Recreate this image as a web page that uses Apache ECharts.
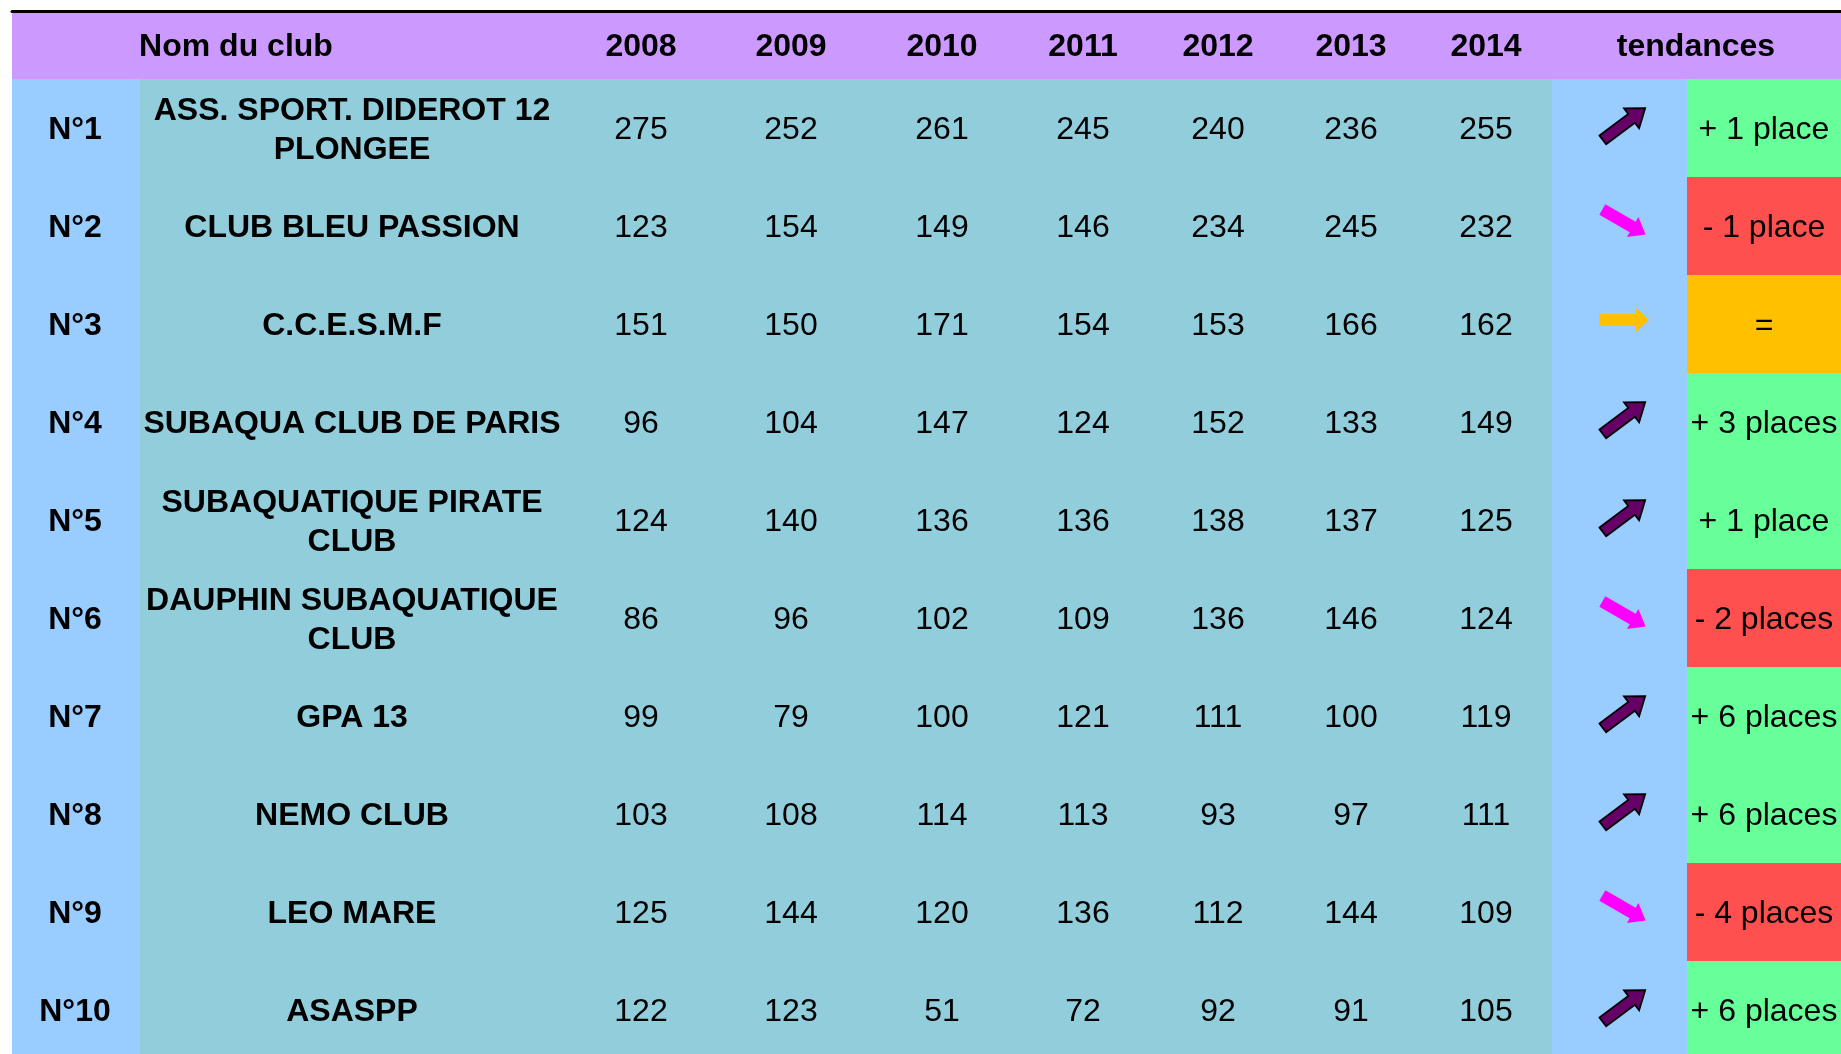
<!DOCTYPE html>
<html>
<head>
<meta charset="utf-8">
<title>Classement des clubs</title>
<script src="https://cdn.jsdelivr.net/npm/echarts@6/dist/echarts.min.js"></script>
<style>
  html, body { margin: 0; padding: 0; background: #ffffff; }
  #chart { width: 1841px; height: 1054px; }
</style>
</head>
<body>
<div id="chart"></div>
<script>
// données du tableau
const ranks = ['N°1', 'N°2', 'N°3', 'N°4', 'N°5', 'N°6', 'N°7', 'N°8', 'N°9', 'N°10']
const clubs = [
  'ASS. SPORT. DIDEROT 12\nPLONGEE',
  'CLUB BLEU PASSION',
  'C.C.E.S.M.F',
  'SUBAQUA CLUB DE PARIS',
  'SUBAQUATIQUE PIRATE\nCLUB',
  'DAUPHIN SUBAQUATIQUE\nCLUB',
  'GPA 13',
  'NEMO CLUB',
  'LEO MARE',
  'ASASPP'
]
const years = ['2008', '2009', '2010', '2011', '2012', '2013', '2014']
const v2008 = [275, 123, 151, 96, 124, 86, 99, 103, 125, 122]
const v2009 = [252, 154, 150, 104, 140, 96, 79, 108, 144, 123]
const v2010 = [261, 149, 171, 147, 136, 102, 100, 114, 120, 51]
const v2011 = [245, 146, 154, 124, 136, 109, 121, 113, 136, 72]
const v2012 = [240, 234, 153, 152, 138, 136, 111, 93, 112, 92]
const v2013 = [236, 245, 166, 133, 137, 146, 100, 97, 144, 91]
const v2014 = [255, 232, 162, 149, 125, 124, 119, 111, 109, 105]
const trends = ['up', 'down', 'flat', 'up', 'up', 'down', 'up', 'up', 'down', 'up']
const changes = ['+ 1 place', '- 1 place', '=', '+ 3 places', '+ 1 place',
                 '- 2 places', '+ 6 places', '+ 6 places', '- 4 places', '+ 6 places']

const yearValues = [v2008, v2009, v2010, v2011, v2012, v2013, v2014]

// mise en page (unités de l'axe x) : bords des fonds et centres des textes
const colEdges = [0, 128, 552, 706, 852, 1008, 1134, 1278, 1402, 1540, 1675, 1829]
const colCenters = [63, 340, 629, 779, 930, 1071, 1206, 1339, 1474, 1612, 1752]
const nameHeaderCenter = 224
const trendHeaderCenter = 1684
const TEXT_DY = 2.5

const BOLD = 'bold 32px "Liberation Sans", Arial, sans-serif'
const NORMAL = '32px "Liberation Sans", Arial, sans-serif'
const statusColors = { up: '#66FF99', down: '#FF5050', flat: '#FFC000' }

// formes des flèches (pointant vers la droite, centrées)
const arrowStyles = {
  up:   { len: 53, sw: 5.5, hw: 12.5, hl: 17, angle: 37, fill: '#660066', stroke: '#000000' },
  down: { len: 50, sw: 6, hw: 11.5, hl: 15, angle: -30, fill: '#FF00FF', stroke: null },
  flat: { len: 50, sw: 6, hw: 12, hl: 13, angle: 0, fill: '#FFC000', stroke: null }
}

function arrowPoints(a) {
  const h = a.len / 2
  return [[-h, -a.sw], [h - a.hl, -a.sw], [h - a.hl, -a.hw], [h, 0],
          [h - a.hl, a.hw], [h - a.hl, a.sw], [-h, a.sw]]
}

function textEl(text, x, y, font) {
  return {
    type: 'text',
    style: {
      text: text, x: x, y: y + TEXT_DY, font: font, fill: '#000000',
      align: 'center', textAlign: 'center',
      verticalAlign: 'middle', textVerticalAlign: 'middle',
      lineHeight: 39
    }
  }
}

function renderBody(params, api) {
  const c = api.value(0)
  const r = api.value(1)
  const left = Math.round(api.coord([colEdges[c], r])[0])
  const right = Math.round(api.coord([colEdges[c + 1], r])[0])
  const xc = api.coord([colCenters[c], r])[0]
  const yc = api.coord([0, r])[1]
  const h = api.size([0, 1])[1]
  const top = Math.round(yc - h / 2)
  const bottom = Math.round(yc + h / 2)
  const children = []

  let fill = '#92CDDC'
  if (c === 0 || c === 9) fill = '#99CCFF'
  if (c === 10) fill = statusColors[trends[r]]
  children.push({
    type: 'rect',
    shape: { x: left, y: top, width: right - left, height: bottom - top },
    style: { fill: fill, lineWidth: 0 }
  })

  if (c === 0) {
    children.push(textEl(ranks[r], xc, yc, BOLD))
  } else if (c === 1) {
    children.push(textEl(clubs[r], xc, yc, BOLD))
  } else if (c >= 2 && c <= 8) {
    children.push(textEl(String(yearValues[c - 2][r]), xc, yc, NORMAL))
  } else if (c === 9) {
    const a = arrowStyles[trends[r]]
    children.push({
      type: 'polygon',
      x: xc, y: yc - 4,
      rotation: a.angle * Math.PI / 180,
      shape: { points: arrowPoints(a) },
      style: {
        fill: a.fill,
        stroke: a.stroke || null,
        lineWidth: a.stroke ? 1.8 : 0,
        lineJoin: 'miter'
      }
    })
  } else {
    children.push(textEl(changes[r], xc, yc, NORMAL))
  }
  return { type: 'group', children: children }
}

const headerLabels = ['Nom du club'].concat(years).concat(['tendances'])
function headerCenter(i) {
  if (i === 0) return nameHeaderCenter
  if (i === headerLabels.length - 1) return trendHeaderCenter
  return colCenters[i + 1]
}

function renderHeader(params, api) {
  const i = api.value(0)
  const pt = api.coord([headerCenter(i), 0])
  return textEl(headerLabels[i], pt[0], pt[1], BOLD)
}

const bodyData = []
ranks.forEach((_, r) => {
  for (let c = 0; c < colEdges.length - 1; c++) bodyData.push([c, r])
})
const headerData = headerLabels.map((_, i) => [i, 0])

const chart = echarts.init(document.getElementById('chart'))

const option = {
  animation: false,
  backgroundColor: '#ffffff',
  grid: [
    {
      left: 12, right: 0, top: 11, height: 68, show: true,
      backgroundColor: '#CC99FF', borderWidth: 0,
      containLabel: false, outerBoundsMode: 'none'
    },
    {
      left: 12, right: 0, top: 79, height: 980, show: true,
      backgroundColor: '#92CDDC', borderWidth: 0,
      containLabel: false, outerBoundsMode: 'none'
    }
  ],
  xAxis: [
    {
      gridIndex: 0, type: 'value', min: 0, max: 1829, position: 'top',
      axisLine: { show: true, onZero: false, lineStyle: { color: '#000000', width: 3 } },
      axisTick: { show: false }, axisLabel: { show: false }, splitLine: { show: false }
    },
    {
      gridIndex: 1, type: 'value', min: 0, max: 1829,
      axisLine: { show: false }, axisTick: { show: false },
      axisLabel: { show: false }, splitLine: { show: false }
    }
  ],
  yAxis: [
    {
      gridIndex: 0, type: 'category', data: ['entete'],
      axisLine: { show: false }, axisTick: { show: false }, axisLabel: { show: false }
    },
    {
      gridIndex: 1, type: 'category', data: ranks, inverse: true,
      axisLine: { show: false }, axisTick: { show: false }, axisLabel: { show: false }
    }
  ],
  series: [
    {
      type: 'custom', xAxisIndex: 0, yAxisIndex: 0,
      renderItem: renderHeader, data: headerData, silent: true
    },
    {
      type: 'custom', xAxisIndex: 1, yAxisIndex: 1,
      renderItem: renderBody, data: bodyData, silent: true
    }
  ]
}

chart.setOption(option)
</script>
</body>
</html>
